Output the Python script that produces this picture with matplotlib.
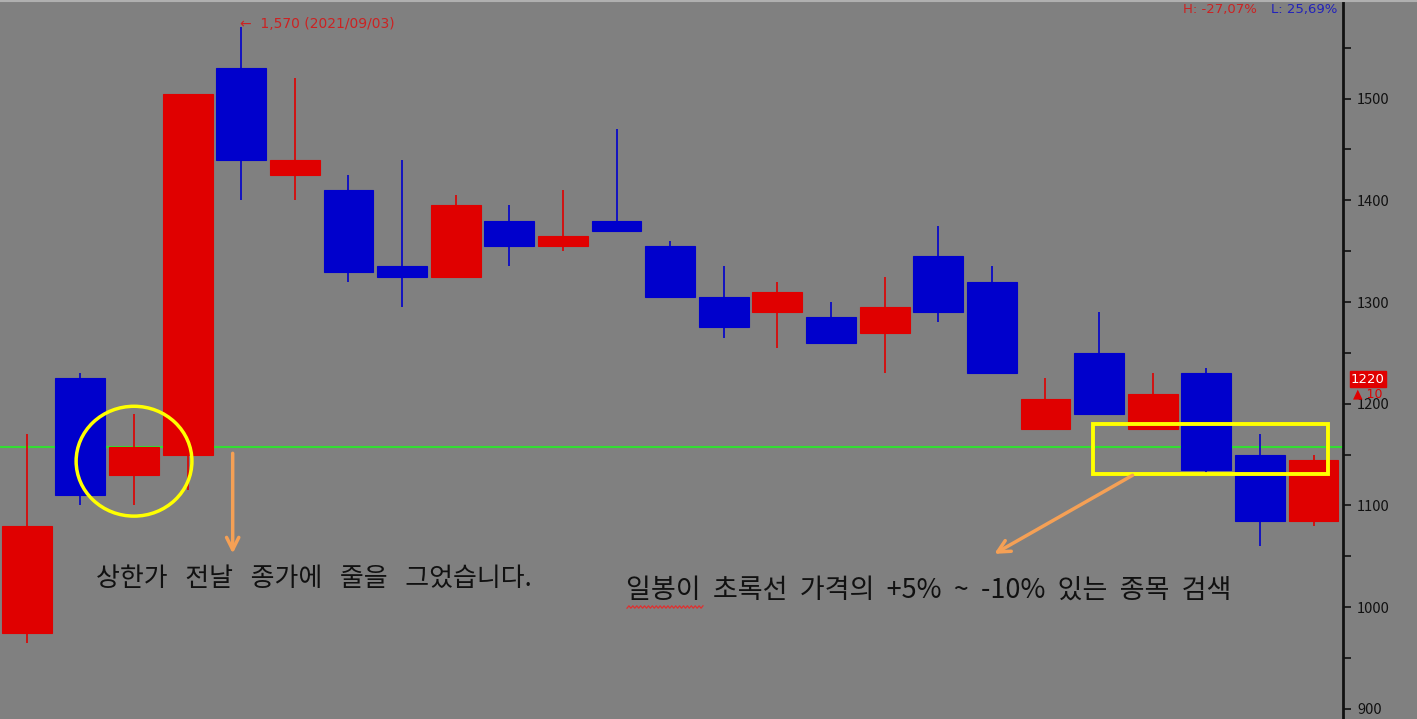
import numpy as np
import matplotlib
matplotlib.use("Agg")
import matplotlib.pyplot as plt
from matplotlib.patches import Ellipse, Rectangle, FancyArrowPatch

plt.rcParams['font.family'] = ['Noto Sans CJK KR', 'DejaVu Sans']

# ---------------- data (daily candles) ----------------
opens  = [975, 1225, 1130, 1150, 1530, 1425, 1410, 1335, 1325, 1380, 1355, 1380, 1355,
          1305, 1290, 1285, 1270, 1345, 1320, 1175, 1250, 1175, 1230, 1150, 1085]
closes = [1080, 1110, 1157, 1505, 1440, 1440, 1330, 1325, 1395, 1355, 1365, 1370, 1305,
          1275, 1310, 1260, 1295, 1290, 1230, 1205, 1190, 1210, 1135, 1085, 1145]
highs  = [1170, 1230, 1190, 1505, 1570, 1520, 1425, 1440, 1405, 1395, 1410, 1470, 1360,
          1335, 1320, 1300, 1325, 1375, 1335, 1225, 1290, 1230, 1235, 1170, 1150]
lows   = [965, 1100, 1100, 1115, 1400, 1400, 1320, 1295, 1325, 1335, 1350, 1370, 1305,
          1265, 1255, 1260, 1230, 1280, 1230, 1175, 1190, 1175, 1130, 1060, 1080]

prev_close_line = 1157
y_ticks = [900, 1000, 1100, 1200, 1300, 1400, 1500, 1600]

BG = '#808080'
RED = '#E00000'
BLUE = '#0000CC'

fig = plt.figure(figsize=(14.17, 7.19), dpi=100, facecolor=BG)
ax = fig.add_axes([0, 0, 1343 / 1417, 1])
ax.set_facecolor(BG)

x = np.arange(len(opens))
o = np.array(opens)
c = np.array(closes)
up = c >= o
colors = np.where(up, RED, BLUE)

# previous-close line (behind candles)
ax.axhline(prev_close_line, color='#33DD33', lw=1.5, zorder=1)

ax.vlines(x, lows, highs, colors=colors, lw=1.2, zorder=2)
ax.bar(x, np.abs(c - o), bottom=np.minimum(o, c), width=0.93,
       color=colors, edgecolor=colors, lw=0.8, zorder=3)

ax.set_xlim(-0.5, 24.55)

# right axis only
for s in ['left', 'top', 'bottom']:
    ax.spines[s].set_visible(False)
ax.spines['right'].set_color('#111111')
ax.spines['right'].set_linewidth(2)
ax.set_xticks([])
ax.yaxis.tick_right()
ax.set_yticks(y_ticks)
ax.set_yticks(np.arange(950, 1600, 100), minor=True)
ax.tick_params(axis='y', which='both', direction='out', length=6, width=1.2,
               colors='#111111', labelsize=10.5, pad=4)
ax.tick_params(axis='y', which='minor', labelsize=0)
for lab in ax.get_yticklabels():
    lab.set_clip_on(False)
ax.set_ylim(890, 1597)

# thin light border at the top of the screenshot
fig.add_artist(plt.Line2D([0, 1], [0.999, 0.999], color='#B0B0B0', lw=1.5,
                          transform=fig.transFigure))

# highlights
ax.add_patch(Ellipse((2.0, 1143.5), 2.16, 108, fill=False, ec='#FFFF00', lw=2.5, zorder=5))
ax.add_patch(Rectangle((19.89, 1131), 24.27 - 19.89, 49, fill=False, ec='#FFFF00',
                       lw=2.8, zorder=5))

arrow_kw = dict(arrowstyle='->', mutation_scale=22, color='#F5A055', lw=2.5, zorder=6)
ax.add_patch(FancyArrowPatch((3.84, 1154), (3.84, 1050), **arrow_kw))
ax.add_patch(FancyArrowPatch((20.67, 1131), (18.0, 1051), **arrow_kw))

text1 = '   '.join(['상한가', '전날', '종가에', '줄을', '그었습니다.'])
text2 = '  '.join(['일봉이', '초록선', '가격의', '+5%', '~', '-10%', '있는', '종목', '검색'])
ax.text(1.29, 1028, text1, fontsize=18.7, color='#111111', va='center', ha='left', zorder=7)
ax.text(11.18, 1016.5, text2, fontsize=19.5, color='#111111', va='center', ha='left', zorder=7)

# spell-check squiggle under the first word
sx = np.linspace(627 / 1417, 703 / 1417, 40)
sy = 1 - (607 + 1.2 * (-1) ** np.arange(40)) / 719
fig.add_artist(plt.Line2D(sx, sy, color='#E03030', lw=0.9, transform=fig.transFigure))

# max label
ax.text(3.98, 1573, '←  1,570 (2021/09/03)', fontsize=10, color='#CC2222',
        va='center', ha='left', family=['DejaVu Sans'])
fig.text(1257 / 1417, 1 - 10 / 719, 'H: -27,07%', fontsize=9.5, color='#CC2222',
         ha='right', va='center', family=['DejaVu Sans'])
fig.text(1337 / 1417, 1 - 10 / 719, 'L: 25,69%', fontsize=9.5, color='#2222BB',
         ha='right', va='center', family=['DejaVu Sans'])

# current price tag
fig.text(1368 / 1417, 1 - 379 / 719, '1220', fontsize=9.5, color='white', ha='center',
         va='center', family=['DejaVu Sans'],
         bbox=dict(boxstyle='square,pad=0.1', fc=RED, ec=RED))
fig.text(1368 / 1417, 1 - 394 / 719, '▲ 10', fontsize=9, color=RED, ha='center',
         va='center', family=['DejaVu Sans'])

fig.savefig('out.png', dpi=100, facecolor=BG)
